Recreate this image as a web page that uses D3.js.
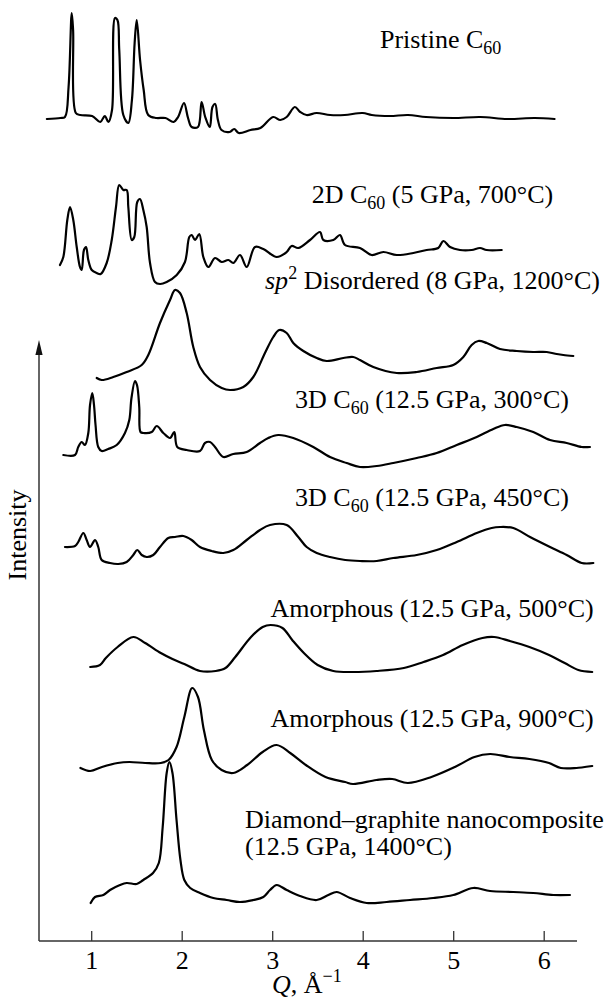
<!DOCTYPE html>
<html>
<head>
<meta charset="utf-8">
<script src="https://cdn.jsdelivr.net/npm/d3@7"></script>
<style>
  html, body { margin: 0; padding: 0; background: #fff; }
  svg { display: block; }
  text { font-family: "Liberation Serif", "Times New Roman", Times, serif; fill: #000; }
</style>
</head>
<body>
<svg id="chart" width="613" height="1000"></svg>
<script>
// ---- Diffraction patterns, Q in 1/Å, intensity in arbitrary units ----
const qPristine = [0.51,0.66,0.71,0.75,0.785,0.80,0.83,0.88,1.01,1.10,1.15,1.19,1.23,1.263,1.29,1.31,1.355,1.41,1.45,1.48,1.503,1.54,1.58,1.63,1.72,1.82,1.91,1.96,2.025,2.07,2.11,2.18,2.22,2.26,2.31,2.34,2.37,2.40,2.44,2.53,2.58,2.63,2.76,2.87,3.01,3.09,3.16,3.25,3.31,3.38,3.49,3.64,3.8,4.0,4.1,4.3,4.5,4.7,5.0,5.3,5.6,5.9,6.12];
const iPristine = [-1,0,1,31,105,88,5,3,2,-4,2,-4,8,100,98,68,3,-5,18,75,98,58,28,3,0,0,-4,1,15,0,-9,-9,16,1,-9,11,14,-2,-12,-14,-11,-15,-12,-10,1,-2,1,11,6,3,5,3,3,5,3,2,3,1,0,1,-1,0,-1];

const q2D = [0.655,0.692,0.736,0.766,0.802,0.840,0.876,0.895,0.920,0.943,0.968,1.006,1.061,1.105,1.171,1.227,1.274,1.310,1.355,1.392,1.410,1.448,1.476,1.509,1.539,1.576,1.613,1.650,1.705,1.760,1.834,1.945,2.036,2.084,2.110,2.147,2.194,2.239,2.294,2.368,2.442,2.515,2.570,2.644,2.718,2.810,2.902,3.050,3.160,3.215,3.288,3.418,3.528,3.565,3.675,3.749,3.804,3.970,4.099,4.228,4.376,4.559,4.707,4.835,4.891,4.965,5.075,5.204,5.296,5.370,5.536];
const i2D = [0,8,45,58,45,18,-2,-5,15,18,5,-5,-8,-9,2,25,58,80,75,75,58,25,28,63,66,55,38,2,-17,-19,-17,-10,3,28,30,25,31,8,-2,7,3,5,2,10,-2,18,16,8,13,19,17,25,33,25,25,30,20,17,10,13,10,12,15,17,24,18,15,15,17,15,15];

const qSp2 = [1.061,1.116,1.244,1.392,1.558,1.631,1.760,1.871,1.926,1.981,2.055,2.128,2.202,2.313,2.442,2.534,2.681,2.791,2.920,3.012,3.078,3.160,3.233,3.344,3.492,3.602,3.786,3.896,3.970,4.117,4.376,4.597,4.818,5.001,5.112,5.204,5.277,5.370,5.517,5.702,5.885,6.033,6.144,6.217,6.327];
const iSp2 = [0,-2,1,6,13,23,55,78,88,85,65,31,11,-2,-10,-12,-9,1,25,41,48,45,35,27,20,17,20,21,18,11,5,6,10,13,21,33,37,35,29,27,26,26,24,23,22];

const q3D300 = [0.692,0.821,0.857,0.895,0.931,0.968,0.987,1.012,1.031,1.048,1.078,1.116,1.189,1.282,1.373,1.421,1.445,1.484,1.506,1.531,1.545,1.576,1.669,1.724,1.797,1.871,1.918,1.951,2.055,2.202,2.257,2.313,2.368,2.460,2.570,2.718,2.865,2.957,3.067,3.233,3.454,3.639,3.823,3.970,4.155,4.338,4.597,4.818,5.039,5.260,5.443,5.572,5.702,5.885,6.070,6.254,6.420,6.511];
const i3D300 = [0,0,8,13,10,22,50,62,50,30,8,4,6,10,22,35,57,74,70,48,23,22,23,29,22,17,23,8,5,4,12,13,8,-2,1,3,12,17,20,17,8,-2,-8,-12,-11,-8,-3,2,10,18,26,30,28,23,15,12,8,8];

const q3D450 = [0.710,0.821,0.857,0.913,0.950,0.987,1.042,1.078,1.116,1.208,1.299,1.392,1.465,1.509,1.558,1.613,1.686,1.760,1.852,1.926,2.018,2.110,2.202,2.331,2.460,2.570,2.718,2.865,2.976,3.160,3.288,3.381,3.492,3.639,3.807,3.970,4.155,4.338,4.597,4.818,5.039,5.260,5.425,5.517,5.664,5.849,6.070,6.254,6.420,6.548];
const i3D450 = [-1,0,4,13,6,-1,6,-1,-14,-17,-18,-16,-9,-4,-9,-11,-9,-1,8,9,10,6,-1,-5,-7,-4,6,16,21,21,9,-1,-7,-11,-14,-15,-15,-12,-9,-4,4,13,18,19,18,9,-1,-9,-17,-17];

const qAm500 = [0.989,1.097,1.162,1.292,1.465,1.596,1.769,1.898,2.029,2.202,2.376,2.484,2.592,2.766,2.895,2.982,3.113,3.221,3.350,3.502,3.675,3.892,4.152,4.455,4.672,4.888,5.105,5.323,5.452,5.625,5.842,6.059,6.232,6.383,6.536];
const iAm500 = [0,2,9,20,30,24,14,8,3,-4,-4,-1,10,30,40,42,39,27,14,2,-4,-5,-4,-1,5,12,22,29,30,26,20,12,4,-3,-5];

const qAm900 = [0.881,0.989,1.119,1.292,1.422,1.596,1.769,1.855,1.943,2.029,2.116,2.180,2.245,2.333,2.441,2.570,2.723,2.895,3.048,3.199,3.372,3.589,3.806,3.892,4.152,4.326,4.498,4.759,5.019,5.235,5.409,5.625,5.842,6.059,6.189,6.363,6.536];
const iAm900 = [0,-3,1,5,6,5,5,8,21,51,80,71,38,8,-2,-5,3,16,23,15,3,-9,-14,-16,-12,-11,-15,-9,1,11,14,11,9,5,0,0,2];

const qDiamond = [0.994,1.042,1.134,1.208,1.318,1.392,1.503,1.576,1.683,1.747,1.790,1.834,1.864,1.898,1.943,1.986,2.029,2.094,2.202,2.349,2.497,2.644,2.791,2.902,2.976,3.050,3.160,3.307,3.492,3.620,3.713,3.860,4.044,4.265,4.523,4.780,5.001,5.222,5.407,5.664,5.885,6.106,6.290];
const iDiamond = [-3,3,5,10,15,17,16,20,27,37,73,127,138,127,80,40,20,12,7,2,0,-2,0,3,10,15,10,4,0,5,8,2,-3,-2,0,2,5,12,9,8,7,5,5];

// vertical stacking offset of each pattern (same intensity units)
const stackOffsets = [823, 676, 563, 486, 395, 274, 173, 41];

const xTicks = [1, 2, 3, 4, 5, 6];

// ---- assemble series ----
const series = [
  [qPristine, iPristine],
  [q2D, i2D],
  [qSp2, iSp2],
  [q3D300, i3D300],
  [q3D450, i3D450],
  [qAm500, iAm500],
  [qAm900, iAm900],
  [qDiamond, iDiamond]
].map(([q, v], k) => q.map((qq, j) => ({ q: qq, v: v[j] + stackOffsets[k] })));

// ---- layout ----
const svg = d3.select("#chart");
const axisY = 941, axisX0 = 39, axisX1 = 577, arrowTop = 340;
const FS = 26;

const x = d3.scaleLinear().domain([1, 6]).range([91.2, 543.7]);
const y = d3.scaleLinear().domain([0, 941]).range([941, 0]);

const line = d3.line()
  .x(d => x(d.q))
  .y(d => y(d.v))
  .curve(d3.curveCatmullRom.alpha(0.5));

svg.append("g")
  .selectAll("path")
  .data(series)
  .join("path")
  .attr("d", line)
  .attr("fill", "none")
  .attr("stroke", "#000")
  .attr("stroke-width", 2.2)
  .attr("stroke-linejoin", "round")
  .attr("stroke-linecap", "round");

// ---- axes ----
const axisColor = "#333";
const gx = svg.append("g").attr("transform", `translate(0,${axisY})`);
gx.call(d3.axisBottom(x).tickValues(xTicks).tickSizeInner(-10).tickSizeOuter(0).tickPadding(18)
  .tickFormat(d3.format("d")));
gx.select(".domain").attr("d", `M${axisX0},0H${axisX1}`).attr("stroke", axisColor).attr("stroke-width", 1.5);
gx.selectAll(".tick line").attr("stroke", axisColor).attr("stroke-width", 1.3);
gx.selectAll(".tick text")
  .attr("font-family", '"Liberation Serif", "Times New Roman", serif')
  .attr("font-size", FS).attr("fill", "#000").attr("dy", null).attr("y", 28);

// y axis with arrow
svg.append("line")
  .attr("x1", axisX0).attr("x2", axisX0)
  .attr("y1", axisY).attr("y2", arrowTop + 10)
  .attr("stroke", axisColor).attr("stroke-width", 1.5);
svg.append("path")
  .attr("d", `M${axisX0},${arrowTop} L${axisX0 - 3.6},${arrowTop + 15} L${axisX0 + 3.6},${arrowTop + 15} Z`)
  .attr("fill", "#111");

// axis titles
const xt = svg.append("text").attr("x", 272).attr("y", 993).attr("font-size", FS);
xt.append("tspan").attr("font-style", "italic").text("Q");
xt.append("tspan").text(", Å");
xt.append("tspan").attr("font-size", 18).attr("dy", -11).text("−1");

svg.append("text")
  .attr("transform", "translate(26,535) rotate(-90)")
  .attr("text-anchor", "middle")
  .attr("font-size", FS)
  .text("Intensity");

// ---- curve labels ----
const labelParts = [
  [["Pristine C"], ["60", "sub"]],
  [["2D C"], ["60", "sub"], [" (5 GPa, 700°C)"]],
  [["sp", "it"], ["2", "sup"], [" Disordered (8 GPa, 1200°C)"]],
  [["3D C"], ["60", "sub"], [" (12.5 GPa, 300°C)"]],
  [["3D C"], ["60", "sub"], [" (12.5 GPa, 450°C)"]],
  [["Amorphous (12.5 GPa, 500°C)"]],
  [["Amorphous (12.5 GPa, 900°C)"]],
  [["Diamond–graphite nanocomposite"]],
  [["(12.5 GPa, 1400°C)"]]
];
const labelPos = [[380, 48], [311.7, 203], [265, 289], [295, 408], [295, 506],
                  [270.6, 617], [270.6, 727], [245, 828], [245, 855]];

labelParts.forEach((parts, k) => {
  const t = svg.append("text").attr("x", labelPos[k][0]).attr("y", labelPos[k][1]).attr("font-size", FS);
  let shift = 0;
  parts.forEach(([s, kind]) => {
    const sp = t.append("tspan").text(s);
    let target = 0;
    if (kind === "sub") { sp.attr("font-size", 18); target = 6; }
    else if (kind === "sup") { sp.attr("font-size", 18); target = -10; }
    else if (kind === "it") { sp.attr("font-style", "italic"); }
    sp.attr("dy", target - shift);
    shift = target;
  });
});
</script>
</body>
</html>
